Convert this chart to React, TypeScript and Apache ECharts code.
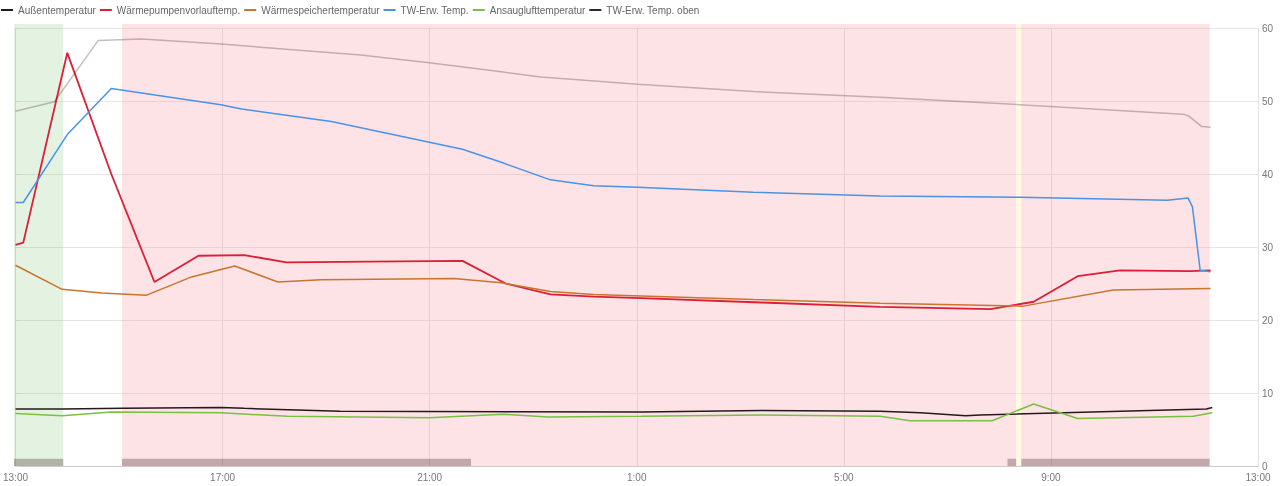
import React, { useEffect, useRef } from "react";
import * as echarts from "echarts";

const START_HOUR = 13;
const xTickLabels = ["13:00", "17:00", "21:00", "1:00", "5:00", "9:00", "13:00"];

const seriesNames = [
  "Außentemperatur",
  "Wärmepumpenvorlauftemp.",
  "Wärmespeichertemperatur",
  "TW-Erw. Temp.",
  "Ansauglufttemperatur",
  "TW-Erw. Temp. oben",
];

const aussen: [string, number][] = [
  ["13:00", 7.8], ["13:54", 7.8], ["15:05", 7.9], ["16:58", 8.0], ["17:25", 7.9],
  ["19:16", 7.5], ["1:05", 7.4], ["3:24", 7.6], ["5:42", 7.5], ["6:29", 7.3],
  ["7:21", 6.9], ["7:38", 7.0], ["12:00", 7.8], ["12:07", 8.0],
];

const vorlauf: [string, number][] = [
  ["13:00", 30.3], ["13:09", 30.6], ["14:00", 56.6], ["14:51", 40.0], ["15:41", 25.2],
  ["16:32", 28.8], ["17:25", 28.9], ["18:14", 27.9], ["19:49", 28.0], ["21:38", 28.1],
  ["22:28", 25.0], ["23:20", 23.5], ["0:10", 23.2], ["1:05", 23.0], ["3:24", 22.4],
  ["5:42", 21.8], ["7:50", 21.5], ["8:40", 22.5], ["9:31", 26.0], ["10:20", 26.8],
  ["11:41", 26.7], ["12:05", 26.8],
];

const speicher: [string, number][] = [
  ["13:00", 27.5], ["13:54", 24.2], ["14:40", 23.7], ["15:32", 23.4], ["16:24", 25.9],
  ["17:14", 27.4], ["18:04", 25.2], ["18:54", 25.5], ["21:28", 25.7], ["22:23", 25.1],
  ["23:20", 23.9], ["0:10", 23.5], ["3:15", 22.8], ["5:42", 22.3], ["8:28", 21.9],
  ["10:12", 24.1], ["12:05", 24.3],
];

const twErw: [string, number][] = [
  ["13:00", 36.1], ["13:09", 36.1], ["14:00", 45.4], ["14:51", 51.7], ["16:58", 49.5],
  ["17:22", 48.9], ["19:06", 47.2], ["21:38", 43.4], ["22:23", 41.6], ["23:20", 39.2],
  ["0:10", 38.4], ["1:01", 38.2], ["3:15", 37.5], ["5:42", 37.0], ["8:24", 36.8],
  ["11:15", 36.4], ["11:39", 36.7], ["11:44", 35.5], ["11:53", 26.8], ["12:05", 26.6],
];

const ansaug: [string, number][] = [
  ["13:00", 7.2], ["13:54", 6.9], ["14:51", 7.4], ["16:58", 7.3], ["18:15", 6.8],
  ["21:00", 6.6], ["22:25", 7.1], ["23:17", 6.7], ["1:05", 6.8], ["3:24", 7.0],
  ["5:42", 6.8], ["6:17", 6.2], ["7:52", 6.2], ["8:40", 8.5], ["9:31", 6.5],
  ["11:45", 6.8], ["12:07", 7.3],
];

const twOben: [string, number][] = [
  ["13:00", 48.6], ["13:45", 49.9], ["14:36", 58.3], ["15:26", 58.5], ["16:58", 57.8],
  ["19:40", 56.3], ["21:02", 55.2], ["22:23", 54.0], ["23:09", 53.3], ["1:01", 52.3],
  ["3:15", 51.3], ["5:42", 50.5], ["8:24", 49.5], ["11:33", 48.2], ["11:39", 48.0],
  ["11:55", 46.5], ["12:05", 46.4],
];

// background periods
const greenBands: [string, string][] = [["13:00", "13:57"]];
const pinkBands: [string, string][] = [["15:05", "8:20"], ["8:26", "12:04"]];
const yellowBands: [string, string][] = [["8:20", "8:26"]];
const grayBars: [string, string][] = [["13:00", "13:57"], ["15:05", "21:49"], ["8:10", "8:20"], ["8:26", "12:04"]];

const colors = ["#241a1e", "#dc1f36", "#c8752f", "#4a93e6", "#79c043", "rgba(70,40,50,0.3)"];
const legendColors = ["#241a1e", "#dc1f36", "#c8752f", "#4a93e6", "#79c043", "#2a2a2a"];

function toH(t: string): number {
  const [h, m] = t.split(":").map(Number);
  let v = h + m / 60 - START_HOUR;
  if (v < 0) v += 24;
  return v;
}

const BAND_MAX = 60.55;
const FONT = "Liberation Sans, Arial, sans-serif";

export default function App() {
  const ref = useRef<HTMLDivElement>(null);
  useEffect(() => {
    if (!ref.current) return;
    const chart = echarts.init(ref.current, undefined, { renderer: "svg" });
    const datasets = [aussen, vorlauf, speicher, twErw, ansaug, twOben];
    const lineSeries = datasets.map((d, i) => ({
      name: seriesNames[i],
      type: "line",
      xAxisIndex: 0,
      yAxisIndex: 0,
      z: 5,
      showSymbol: false,
      symbol: "none",
      data: d.map(([t, v]) => [toH(t), v]),
      lineStyle: { color: colors[i], width: i === 1 ? 1.8 : 1.5 },
      itemStyle: { color: legendColors[i] },
    }));
    const bandItem = (a: string, b: string, color: string) => [
      { xAxis: toH(a), itemStyle: { color } },
      { xAxis: toH(b) },
    ];
    chart.setOption({
      animation: false,
      legend: {
        left: 0,
        top: 5,
        padding: 0,
        itemGap: 3,
        itemWidth: 12,
        itemHeight: 2,
        textStyle: { fontSize: 10, color: "#666", fontFamily: FONT },
        data: seriesNames.map((n, i) => ({
          name: n,
          itemStyle: { color: legendColors[i] },
          lineStyle: { color: legendColors[i], opacity: 1, width: 2 },
        })),
      },
      grid: [
        { left: 14, right: 22, top: 28, bottom: 20 },
        { left: 14, right: 22, top: 24, bottom: 20 },
      ],
      xAxis: [
        {
          type: "value",
          gridIndex: 0,
          min: 0,
          max: 24,
          interval: 4,
          axisLine: { show: true, lineStyle: { color: "#cccccc" } },
          axisTick: { show: false },
          splitLine: { show: true, lineStyle: { color: "#e2e2e2" } },
          axisLabel: {
            formatter: (v: number) => xTickLabels[Math.round(v / 4)] ?? "",
            color: "#777",
            fontSize: 10,
            margin: 6,
            fontFamily: FONT,
          },
        },
        { type: "value", gridIndex: 1, min: 0, max: 24, show: false },
      ],
      yAxis: [
        {
          type: "value",
          gridIndex: 0,
          position: "right",
          min: 0,
          max: 60,
          interval: 10,
          axisLine: { show: true, lineStyle: { color: "#dddddd" } },
          axisTick: { show: true, length: 4, lineStyle: { color: "#dddddd" } },
          splitLine: { show: true, lineStyle: { color: "#e6e6e6" } },
          axisLabel: { color: "#777", fontSize: 10, margin: 4, fontFamily: FONT },
        },
        { type: "value", gridIndex: 1, min: 0, max: BAND_MAX, show: false },
      ],
      series: [
        {
          name: "bands",
          type: "line",
          xAxisIndex: 1,
          yAxisIndex: 1,
          data: [],
          z: 1,
          silent: true,
          markArea: {
            silent: true,
            z: 1,
            data: [
              ...greenBands.map(([a, b]) => bandItem(a, b, "rgba(130,200,120,0.22)")),
              ...pinkBands.map(([a, b]) => bandItem(a, b, "rgba(248,160,172,0.3)")),
              ...yellowBands.map(([a, b]) => bandItem(a, b, "rgba(255,238,150,0.3)")),
            ],
          },
        },
        {
          name: "bars",
          type: "line",
          xAxisIndex: 1,
          yAxisIndex: 1,
          data: [],
          z: 2,
          silent: true,
          markArea: {
            silent: true,
            z: 2,
            data: grayBars.map(([a, b]) => [
              { xAxis: toH(a), yAxis: 0, itemStyle: { color: "rgba(70,50,50,0.33)" } },
              { xAxis: toH(b), yAxis: 1 },
            ]),
          },
        },
        ...lineSeries,
      ],
    });
    return () => chart.dispose();
  }, []);
  return (
    <div
      ref={ref}
      style={{ position: "fixed", left: 0, top: 0, width: 1280, height: 486 }}
    />
  );
}
